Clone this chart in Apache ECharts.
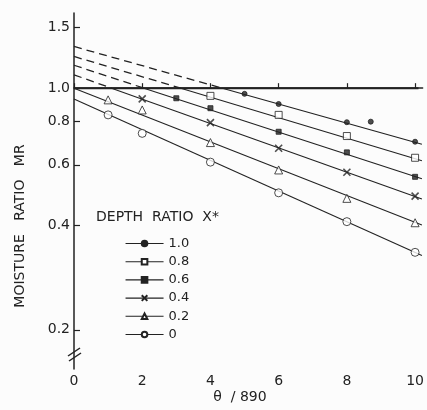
<!DOCTYPE html>
<html>
<head>
<meta charset="utf-8">
<script src="https://cdn.jsdelivr.net/npm/echarts@6/dist/echarts.min.js"></script>
<style>
  html, body { margin: 0; padding: 0; background: #fcfcfc; }
  #main { width: 427px; height: 410px; }
</style>
</head>
<body>
<div id="main"></div>
<script>
var chartDom = document.getElementById('main');
var myChart = echarts.init(chartDom);
var option;

// depth ratio X* series, top to bottom as in the legend
var depthLabels = ['1.0', '0.8', '0.6', '0.4', '0.2', '0'];

// measured points [theta/890, MR]
var pts10 = [[5, 0.963], [6, 0.90], [8, 0.797], [8.7, 0.80], [10, 0.70]];
var pts08 = [[4, 0.95], [6, 0.837], [8, 0.727], [10, 0.629]];
var pts06 = [[3, 0.935], [4, 0.875], [6, 0.748], [8, 0.652], [10, 0.554]];
var pts04 = [[2, 0.931], [4, 0.795], [6, 0.67], [8, 0.571], [10, 0.487]];
var pts02 = [[1, 0.925], [2, 0.865], [4, 0.696], [6, 0.58], [8, 0.48], [10, 0.408]];
var pts00 = [[1, 0.837], [2, 0.74], [4, 0.611], [6, 0.498], [8, 0.411], [10, 0.335]];

// fitted straight lines
var fitStartX = [4.35, 3.13, 2.05, 1.1, 0, 0];
var fitStartMR = [1.0, 1.0, 1.0, 1.0, 1.0, 0.93];
var fitEndX = [10.2, 10.2, 10.2, 10.2, 10.2, 10.2];
var fitEndMR = [0.688, 0.617, 0.547, 0.478, 0.402, 0.328];
var dashStartMR = [1.32, 1.235, 1.165, 1.093, null, null];

var xTicks = [0, 2, 4, 6, 8, 10];
var yTickValues = [0.2, 0.4, 0.6, 0.8, 1.0, 1.5];
var yTickLabels = ['0.2', '0.4', '0.6', '0.8', '1.0', '1.5'];

var ink = '#222';
var crossPath = 'path://M0,0L10,10M10,0L0,10';

var symbols = ['circle', 'rect', 'rect', crossPath, 'triangle', 'circle'];
var symbolSizes = [5, 7, 5, 7, 8, 8];
var symbolFill = [ink, '#fff', ink, 'transparent', '#fff', '#fff'];
var allPts = [pts10, pts08, pts06, pts04, pts02, pts00];

function lg(v) { return Math.log10(v); }
function toLog(p) { return [p[0], lg(p[1])]; }

var series = [];

// horizontal line MR = 1.0
series.push({
    type: 'line',
    data: [[0, 0], [10.1, 0]],
    showSymbol: false,
    lineStyle: { color: ink, width: 2 },
    silent: true,
    z: 3
});

for (var i = 0; i < depthLabels.length; i++) {
    var style = {
        color: symbolFill[i],
        borderColor: ink,
        borderWidth: symbols[i] === crossPath ? 1.6 : 1
    };
    series.push({
        name: depthLabels[i],
        type: 'line',
        data: [[fitStartX[i], lg(fitStartMR[i])], [fitEndX[i], lg(fitEndMR[i])]],
        symbol: symbols[i],
        symbolSize: symbolSizes[i],
        showSymbol: false,
        lineStyle: { color: ink, width: 1.1 },
        itemStyle: style,
        silent: true
    });
    if (dashStartMR[i] !== null) {
        series.push({
            type: 'line',
            data: [[0, lg(dashStartMR[i])], [fitStartX[i], lg(fitStartMR[i])]],
            showSymbol: false,
            lineStyle: { color: ink, width: 1.3, type: [8, 5] },
            silent: true
        });
    }
    series.push({
        type: 'scatter',
        data: allPts[i].map(toLog),
        symbol: symbols[i],
        symbolSize: symbolSizes[i],
        itemStyle: style,
        z: 5,
        silent: true
    });
}

option = {
    backgroundColor: '#fcfcfc',
    animation: false,
    textStyle: { fontFamily: 'DejaVu Sans', color: ink },
    grid: { left: 74, top: 13, width: 349, height: 356 },
    title: {
        text: 'DEPTH  RATIO  X*',
        left: 96,
        top: 210,
        padding: 0,
        textStyle: { fontFamily: 'DejaVu Sans', fontSize: 14, fontWeight: 'normal', color: ink }
    },
    legend: {
        data: depthLabels,
        orient: 'vertical',
        left: 125,
        top: 237,
        padding: 0,
        itemWidth: 38,
        itemHeight: 7,
        itemGap: 5.2,
        selectedMode: false,
        lineStyle: { width: 1.1 },
        textStyle: { fontFamily: 'DejaVu Sans', fontSize: 13, color: ink, lineHeight: 12 }
    },
    xAxis: {
        type: 'value',
        min: 0,
        max: 10.22,
        axisLine: { lineStyle: { color: ink, width: 1.5 } },
        axisTick: { inside: true, length: 5, customValues: xTicks, lineStyle: { color: ink, width: 1.2 } },
        axisLabel: { customValues: xTicks, margin: 5, fontSize: 14, color: ink, fontFamily: 'DejaVu Sans' },
        splitLine: { show: false }
    },
    yAxis: {
        type: 'value',
        min: lg(0.154),
        max: lg(1.65),
        axisLine: { show: true, lineStyle: { color: ink, width: 1.5 } },
        axisTick: { show: true, inside: true, length: 6, customValues: yTickValues.map(lg), lineStyle: { color: ink, width: 1.2 } },
        axisLabel: {
            customValues: yTickValues.map(lg),
            margin: 4,
            fontSize: 14,
            color: ink,
            fontFamily: 'DejaVu Sans',
            formatter: function (v) {
                for (var k = 0; k < yTickValues.length; k++) {
                    if (Math.abs(lg(yTickValues[k]) - v) < 1e-6) return yTickLabels[k];
                }
                return '';
            }
        },
        splitLine: { show: false }
    },
    graphic: [
        {
            type: 'text',
            x: 20, y: 226,
            rotation: Math.PI / 2,
            style: {
                text: 'MOISTURE   RATIO   MR',
                fill: ink,
                font: '14px "DejaVu Sans"',
                textAlign: 'center',
                textVerticalAlign: 'middle'
            }
        },
        {
            type: 'text',
            x: 240, y: 397,
            style: {
                text: 'θ  / 890',
                fill: ink,
                font: '14px "DejaVu Sans"',
                textAlign: 'center',
                textVerticalAlign: 'middle'
            }
        },
        {
            type: 'line',
            shape: { x1: 68, y1: 356, x2: 80, y2: 348 },
            style: { stroke: ink, lineWidth: 1.5 }
        },
        {
            type: 'line',
            shape: { x1: 69, y1: 361, x2: 81, y2: 353 },
            style: { stroke: ink, lineWidth: 1.5 }
        }
    ],
    series: series
};

option && myChart.setOption(option);
</script>
</body>
</html>
